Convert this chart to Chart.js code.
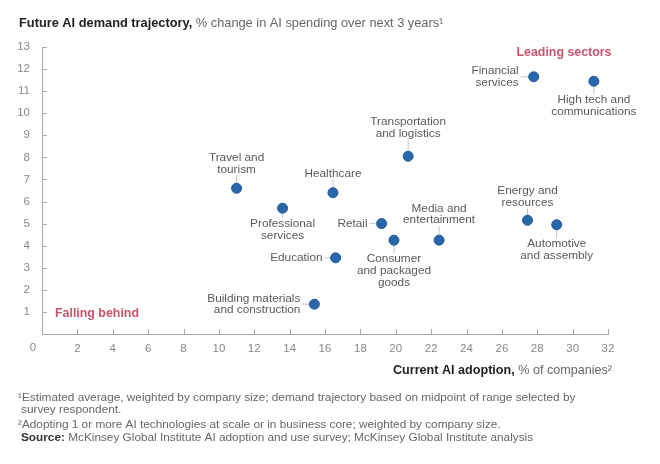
<!DOCTYPE html>
<html>
<head>
<meta charset="utf-8">
<script src="https://cdn.jsdelivr.net/npm/chart.js@4.4.0/dist/chart.umd.min.js"></script>
<style>
  html, body { margin: 0; padding: 0; background: #fff; }
</style>
</head>
<body>
<canvas id="aiChart" width="660" height="464"></canvas>
<script>
// Data
const sectors = [
    'Financial services', 'High tech and communications', 'Transportation and logistics',
    'Travel and tourism', 'Healthcare', 'Professional services', 'Retail',
    'Consumer and packaged goods', 'Media and entertainment', 'Energy and resources',
    'Automotive and assembly', 'Education', 'Building materials and construction'
];
const labelLines = [
    ['Financial', 'services'], ['High tech and', 'communications'], ['Transportation', 'and logistics'],
    ['Travel and', 'tourism'], ['Healthcare'], ['Professional', 'services'], ['Retail'],
    ['Consumer', 'and packaged', 'goods'], ['Media and', 'entertainment'], ['Energy and', 'resources'],
    ['Automotive', 'and assembly'], ['Education'], ['Building materials', 'and construction']
];
const adoption = [27.8, 31.2, 20.7, 11.0, 16.45, 13.6, 19.2, 19.9, 22.45, 27.45, 29.1, 16.6, 15.4];
const demand = [11.65, 11.45, 8.05, 6.6, 6.4, 5.7, 5.0, 4.25, 4.25, 5.15, 4.95, 3.45, 1.35];

// Where each label sits relative to its dot
const labelSide = ['left', 'below', 'above', 'above', 'above', 'below', 'left', 'below', 'above', 'above', 'below', 'left', 'left'];
const labelGap = [15, 19, 23, 19, 19, 16, 14, 19, 20, 18, 19, 13, 14];

const FONT = '"Liberation Sans", Arial, Helvetica, sans-serif';
Chart.defaults.font.family = FONT;

const points = adoption.map((x, i) => ({ x: x, y: demand[i] }));

const extras = {
    id: 'extras',
    beforeDatasetsDraw(chart) {
        const ctx = chart.ctx;
        const meta = chart.getDatasetMeta(0);
        ctx.save();
        ctx.strokeStyle = '#c4c4c4';
        ctx.lineWidth = 1;
        meta.data.forEach((pt, i) => {
            const g = labelGap[i];
            ctx.beginPath();
            if (labelSide[i] === 'left') {
                ctx.moveTo(pt.x - g + 2, pt.y);
                ctx.lineTo(pt.x - 4, pt.y);
            } else if (labelSide[i] === 'above') {
                ctx.moveTo(pt.x, pt.y - g + 6);
                ctx.lineTo(pt.x, pt.y - 4);
            } else {
                ctx.moveTo(pt.x, pt.y + 4);
                ctx.lineTo(pt.x, pt.y + g - 6);
            }
            ctx.stroke();
        });
        ctx.restore();
    },
    afterDraw(chart) {
        const ctx = chart.ctx;
        const xs = chart.scales.x, ys = chart.scales.y;
        const area = chart.chartArea;
        ctx.save();

        // inward tick marks
        ctx.strokeStyle = '#aaaaaa';
        ctx.lineWidth = 1;
        xs.ticks.forEach(t => {
            if (t.value === 0) return;
            const px = Math.round(xs.getPixelForValue(t.value)) + 0.5;
            ctx.beginPath();
            ctx.moveTo(px, area.bottom);
            ctx.lineTo(px, area.bottom - 5);
            ctx.stroke();
        });
        ys.ticks.forEach(t => {
            if (t.value === 0) return;
            const py = Math.round(ys.getPixelForValue(t.value)) + 0.5;
            ctx.beginPath();
            ctx.moveTo(area.left, py);
            ctx.lineTo(area.left + 5, py);
            ctx.stroke();
        });

        // shared origin label
        ctx.fillStyle = '#888';
        ctx.font = '11.5px ' + FONT;
        ctx.textAlign = 'center';
        ctx.textBaseline = 'middle';
        ctx.fillText('0', area.left - 9, area.bottom + 14);

        // point labels
        const meta = chart.getDatasetMeta(0);
        ctx.fillStyle = '#5a5a5a';
        ctx.font = '11.8px ' + FONT;
        const lh = 11.7;
        meta.data.forEach((pt, i) => {
            const lines = labelLines[i];
            const g = labelGap[i];
            lines.forEach((line, j) => {
                let tx, ty;
                if (labelSide[i] === 'left') {
                    ctx.textAlign = 'right';
                    tx = pt.x - g;
                    ty = pt.y + (j - (lines.length - 1) / 2) * lh;
                } else if (labelSide[i] === 'above') {
                    ctx.textAlign = 'center';
                    tx = pt.x;
                    ty = pt.y - g - (lines.length - 1 - j) * lh;
                } else {
                    ctx.textAlign = 'center';
                    tx = pt.x;
                    ty = pt.y + g + j * lh;
                }
                ctx.fillText(line, tx, ty);
            });
        });

        // quadrant notes
        ctx.fillStyle = '#c9546c';
        ctx.font = 'bold 12.4px ' + FONT;
        ctx.textAlign = 'center';
        ctx.fillText('Leading sectors', 564, 53);
        ctx.textAlign = 'left';
        ctx.fillText('Falling behind', 55, 314);

        // title
        ctx.textAlign = 'left';
        ctx.font = 'bold 12.8px ' + FONT;
        ctx.fillStyle = '#222';
        const t1 = 'Future AI demand trajectory, ';
        ctx.fillText(t1, 19, 23);
        const w1 = ctx.measureText(t1).width;
        ctx.font = '12.8px ' + FONT;
        ctx.fillStyle = '#666';
        ctx.fillText('% change in AI spending over next 3 years\u00b9', 19 + w1, 23);

        // x axis title (right aligned)
        const a1 = 'Current AI adoption, ';
        const a2 = '% of companies\u00b2';
        ctx.font = '12.6px ' + FONT;
        const w2 = ctx.measureText(a2).width;
        ctx.textAlign = 'right';
        ctx.fillStyle = '#666';
        ctx.fillText(a2, 612, 371);
        ctx.font = 'bold 12.6px ' + FONT;
        ctx.fillStyle = '#222';
        ctx.fillText(a1, 612 - w2, 371);

        // footnotes
        ctx.textAlign = 'left';
        ctx.font = '11.8px ' + FONT;
        ctx.fillStyle = '#666';
        ctx.fillText('\u00b9Estimated average, weighted by company size; demand trajectory based on midpoint of range selected by', 18, 398);
        ctx.fillText('survey respondent.', 21, 410);
        ctx.fillText('\u00b2Adopting 1 or more AI technologies at scale or in business core; weighted by company size.', 18, 425);
        ctx.font = 'bold 11.8px ' + FONT;
        ctx.fillStyle = '#333';
        const s1 = 'Source: ';
        ctx.fillText(s1, 21, 438);
        const ws = ctx.measureText(s1).width;
        ctx.font = '11.8px ' + FONT;
        ctx.fillStyle = '#666';
        ctx.fillText('McKinsey Global Institute AI adoption and use survey; McKinsey Global Institute analysis', 21 + ws, 438);

        ctx.restore();
    }
};

const ctx = document.getElementById('aiChart').getContext('2d');
new Chart(ctx, {
    type: 'scatter',
    data: {
        labels: sectors,
        datasets: [{
            data: points,
            backgroundColor: '#2a66aa',
            borderColor: '#1f5a99',
            borderWidth: 1,
            pointRadius: 5,
            pointHoverRadius: 5
        }]
    },
    options: {
        responsive: false,
        animation: false,
        layout: { padding: { top: 47, right: 52, left: 0, bottom: 0 } },
        plugins: {
            legend: { display: false },
            tooltip: { enabled: false },
            title: { display: false }
        },
        scales: {
            x: {
                type: 'linear',
                min: 0,
                max: 32,
                afterFit: s => { s.height = 130; },
                ticks: {
                    stepSize: 2,
                    color: '#888',
                    font: { size: 11.5 },
                    padding: 8,
                    callback: v => (v === 0 ? '' : v)
                },
                grid: { drawOnChartArea: false, drawTicks: false },
                border: { display: true, color: '#aaaaaa' }
            },
            y: {
                type: 'linear',
                min: 0,
                max: 13,
                afterFit: s => { s.width = 42; },
                ticks: {
                    stepSize: 1,
                    color: '#888',
                    font: { size: 11.5 },
                    padding: 12,
                    callback: v => (v === 0 ? '' : v)
                },
                grid: { drawOnChartArea: false, drawTicks: false },
                border: { display: true, color: '#aaaaaa' }
            }
        }
    },
    plugins: [extras]
});
</script>
</body>
</html>
